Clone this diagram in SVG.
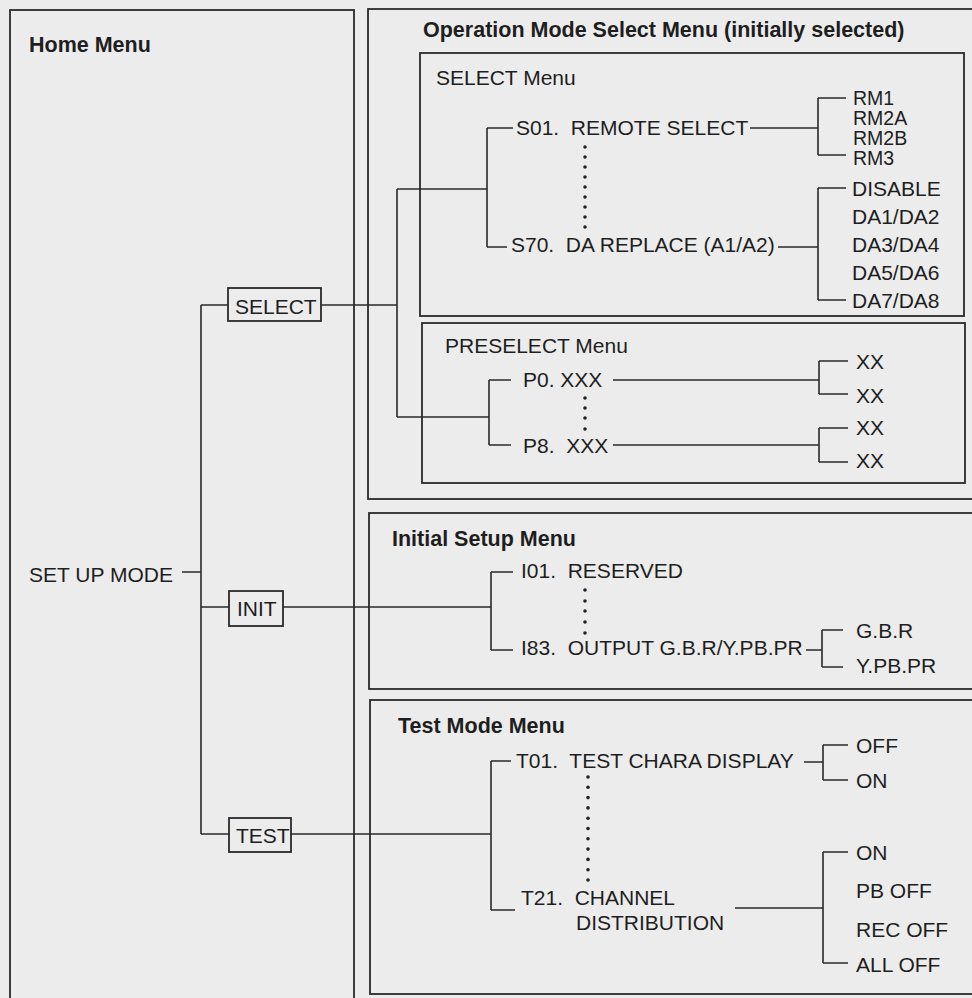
<svg xmlns="http://www.w3.org/2000/svg" width="972" height="998" viewBox="0 0 972 998">
<style>
.t{font-family:"Liberation Sans",Arial,Helvetica,sans-serif;font-size:21px;fill:#1e1e1e;white-space:pre}
.b{font-weight:bold;font-size:21.5px}
.s{font-size:19.5px}
.ln{stroke:#2a2a2a;stroke-width:1.6;fill:none}
.box{stroke:#2a2a2a;stroke-width:1.8;fill:none}
.dot{fill:#222}
</style>
<rect x="0" y="0" width="972" height="998" fill="#ececec"/>

<g id="home-menu">
<rect class="box" x="10" y="10" width="344" height="1000"/>
<text class="t b" x="29" y="52">Home Menu</text>
<text class="t" x="29" y="582">SET UP MODE</text>
</g>
<g id="node-select"><rect class="box" x="228" y="288" width="93" height="33"/><text class="t" x="235" y="314">SELECT</text></g>
<g id="node-init"><rect class="box" x="229" y="591" width="54" height="35"/><text class="t" x="237" y="616">INIT</text></g>
<g id="node-test"><rect class="box" x="229" y="818" width="62" height="34"/><text class="t" x="236" y="843">TEST</text></g>

<g id="operation-mode-menu">
<rect class="box" x="368" y="9" width="700" height="490"/>
<text class="t b" x="423" y="37">Operation Mode Select Menu (initially selected)</text>
</g>
<g id="select-menu">
<rect class="box" x="420" y="53" width="544" height="263"/>
<text class="t" x="436" y="85">SELECT Menu</text>
<text class="t" x="516" y="135">S01.  REMOTE SELECT</text>
<text class="t" x="511" y="252">S70.  DA REPLACE (A1/A2)</text>
<text class="t s" x="853" y="105">RM1</text>
<text class="t s" x="853" y="125">RM2A</text>
<text class="t s" x="853" y="145">RM2B</text>
<text class="t s" x="853" y="165">RM3</text>
<text class="t" x="852" y="196">DISABLE</text>
<text class="t" x="852" y="224">DA1/DA2</text>
<text class="t" x="852" y="252">DA3/DA4</text>
<text class="t" x="852" y="280">DA5/DA6</text>
<text class="t" x="852" y="308">DA7/DA8</text>
<g class="dot"><circle cx="585" cy="147" r="1.8"/><circle cx="585" cy="157" r="1.8"/><circle cx="585" cy="167" r="1.8"/><circle cx="585" cy="177" r="1.8"/><circle cx="585" cy="187" r="1.8"/><circle cx="585" cy="197" r="1.8"/><circle cx="585" cy="207" r="1.8"/><circle cx="585" cy="217" r="1.8"/><circle cx="585" cy="227" r="1.8"/></g>
</g>
<g id="preselect-menu">
<rect class="box" x="422" y="323" width="543" height="160"/>
<text class="t" x="445" y="353">PRESELECT Menu</text>
<text class="t" x="523" y="387">P0. XXX</text>
<text class="t" x="523" y="453">P8.  XXX</text>
<text class="t" x="856" y="369">XX</text>
<text class="t" x="856" y="403">XX</text>
<text class="t" x="856" y="435">XX</text>
<text class="t" x="856" y="468">XX</text>
<g class="dot"><circle cx="585" cy="398" r="1.8"/><circle cx="585" cy="408" r="1.8"/><circle cx="585" cy="418" r="1.8"/><circle cx="585" cy="429" r="1.8"/></g>
</g>
<g id="initial-setup-menu">
<rect class="box" x="369" y="513" width="700" height="176"/>
<text class="t b" x="392" y="546">Initial Setup Menu</text>
<text class="t" x="521" y="578">I01.  RESERVED</text>
<text class="t" x="521" y="655">I83.  OUTPUT G.B.R/Y.PB.PR</text>
<text class="t" x="856" y="638">G.B.R</text>
<text class="t" x="856" y="673">Y.PB.PR</text>
<g class="dot"><circle cx="585" cy="590" r="1.8"/><circle cx="585" cy="601" r="1.8"/><circle cx="585" cy="611" r="1.8"/><circle cx="585" cy="622" r="1.8"/><circle cx="585" cy="633" r="1.8"/></g>
</g>
<g id="test-mode-menu">
<rect class="box" x="370" y="700" width="700" height="294"/>
<text class="t b" x="398" y="733">Test Mode Menu</text>
<text class="t" x="516" y="768">T01.  TEST CHARA DISPLAY</text>
<text class="t" x="856" y="753">OFF</text>
<text class="t" x="856" y="788">ON</text>
<text class="t" x="521" y="905">T21.  CHANNEL</text>
<text class="t" x="576" y="930">DISTRIBUTION</text>
<text class="t" x="856" y="860">ON</text>
<text class="t" x="856" y="898">PB OFF</text>
<text class="t" x="856" y="937">REC OFF</text>
<text class="t" x="856" y="972">ALL OFF</text>
<g class="dot"><circle cx="588" cy="777" r="1.8"/><circle cx="588" cy="787.3" r="1.8"/><circle cx="588" cy="797.6" r="1.8"/><circle cx="588" cy="807.9" r="1.8"/><circle cx="588" cy="818.2" r="1.8"/><circle cx="588" cy="828.5" r="1.8"/><circle cx="588" cy="838.8" r="1.8"/><circle cx="588" cy="849.1" r="1.8"/><circle cx="588" cy="859.4" r="1.8"/><circle cx="588" cy="869.7" r="1.8"/><circle cx="588" cy="880" r="1.8"/></g>
</g>

<g id="connectors" class="ln">
<path d="M201,305 V834 M201,305 H228 M182,572 H201 M201,607 H229 M201,834 H229"/>
<path d="M321,305 H397 M397,189 V417 M397,189 H487 M487,128 V247 M487,128 H513 M487,247 H507"/>
<path d="M397,417 H489 M489,380 V445 M489,380 H511 M489,445 H511"/>
<path d="M750,128 H818 M818,98 V155 M818,98 H846 M818,155 H846"/>
<path d="M778,247 H818 M818,188 V300 M818,188 H846 M818,300 H846"/>
<path d="M613,380 H819 M819,361 V394 M819,361 H848 M819,394 H848"/>
<path d="M613,445 H819 M819,428 V462 M819,428 H848 M819,462 H848"/>
<path d="M283,607 H491 M491,572 V650 M491,572 H513 M491,650 H513"/>
<path d="M806,650 H822 M822,630 V667 M822,630 H843 M822,667 H843"/>
<path d="M291,834 H491 M491,761 V910 M491,761 H511 M491,910 H515"/>
<path d="M804,762 H823 M823,745 V780 M823,745 H848 M823,780 H848"/>
<path d="M735,908 H823 M823,852 V963 M823,852 H848 M823,963 H848"/>
</g>
</svg>
